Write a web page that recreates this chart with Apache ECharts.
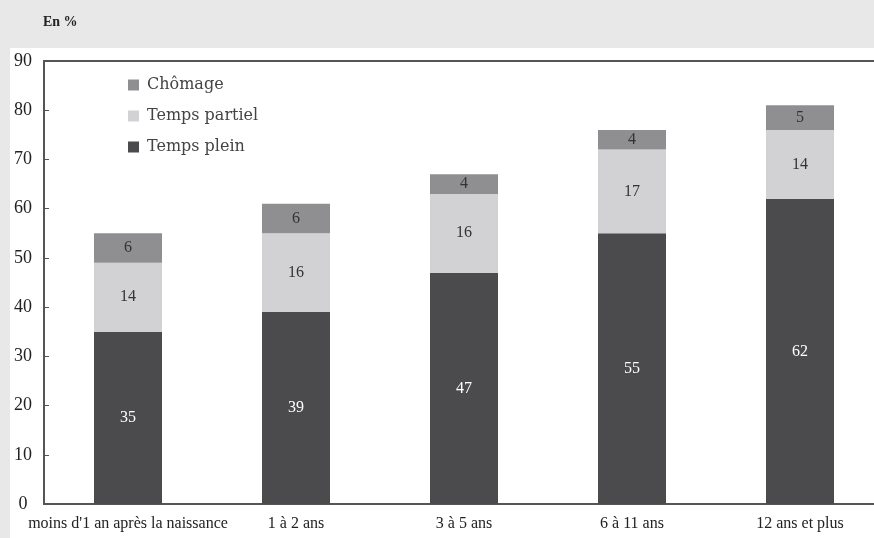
<!DOCTYPE html>
<html><head><meta charset="utf-8">
<script src="https://cdn.jsdelivr.net/npm/echarts@6/dist/echarts.min.js"></script>
<style>html,body{margin:0;padding:0;background:#e8e8e8;overflow:hidden;width:874px;height:538px}#c{width:884px;height:538px}</style>
</head><body><div id="c"></div>
<script>
const categories = ["moins d'1 an après la naissance", "1 à 2 ans", "3 à 5 ans", "6 à 11 ans", "12 ans et plus"];
const tempsPlein = [35, 39, 47, 55, 62];
const tempsPartiel = [14, 16, 16, 17, 14];
const chomage = [6, 6, 4, 4, 5];
const yTicks = [0, 10, 20, 30, 40, 50, 60, 70, 80, 90];

const font = '"Liberation Serif", "DejaVu Serif", serif';
const chart = echarts.init(document.getElementById('c'));
function lbl(color) {
  return { show: true, position: 'inside', color: color, fontFamily: font, fontSize: 16 };
}
chart.setOption({
  backgroundColor: '#e8e8e8',
  animation: false,
  graphic: [
    { type: 'rect', z: -10, silent: true, shape: { x: 10, y: 48, width: 900, height: 500 }, style: { fill: '#ffffff' } },
    { type: 'text', left: 43, top: 15, style: { text: 'En %', font: 'bold 14px ' + font, fill: '#222' } }
  ],
  grid: { left: 44, top: 61, right: 0, bottom: 34, show: true, borderColor: '#555', borderWidth: 2, backgroundColor: 'transparent' },
  legend: {
    orient: 'vertical', left: 123, top: 72, itemWidth: 11, itemHeight: 11, itemGap: 15,
    icon: 'rect',
    textStyle: { fontFamily: '"DejaVu Serif", serif', fontSize: 16, color: '#444', padding: [0, 0, 0, 3] },
    data: ['Chômage', 'Temps partiel', 'Temps plein']
  },
  xAxis: {
    type: 'category', data: categories,
    axisLine: { lineStyle: { color: '#555', width: 2 } },
    axisTick: { inside: true, length: 4, lineStyle: { color: '#555' } },
    axisLabel: { color: '#222', fontFamily: font, fontSize: 16, margin: 12, interval: 0 }
  },
  yAxis: {
    type: 'value', min: 0, max: 90, interval: 10,
    axisLine: { show: true, lineStyle: { color: '#555', width: 2 } },
    axisTick: { show: true, inside: true, length: 5, lineStyle: { color: '#555' } },
    splitLine: { show: false },
    axisLabel: { color: '#222', fontFamily: font, fontSize: 18, align: 'center', margin: 21,
      formatter: v => yTicks.includes(v) ? String(v) : '' }
  },
  series: [
    { name: 'Temps plein', type: 'bar', stack: 's', barWidth: 68, data: tempsPlein, itemStyle: { color: '#4b4b4d' }, label: lbl('#ffffff') },
    { name: 'Temps partiel', type: 'bar', stack: 's', barWidth: 68, data: tempsPartiel, itemStyle: { color: '#d2d2d4' }, label: lbl('#333') },
    { name: 'Chômage', type: 'bar', stack: 's', barWidth: 68, data: chomage, itemStyle: { color: '#8f8f91' }, label: lbl('#333') }
  ]
});
</script></body></html>
